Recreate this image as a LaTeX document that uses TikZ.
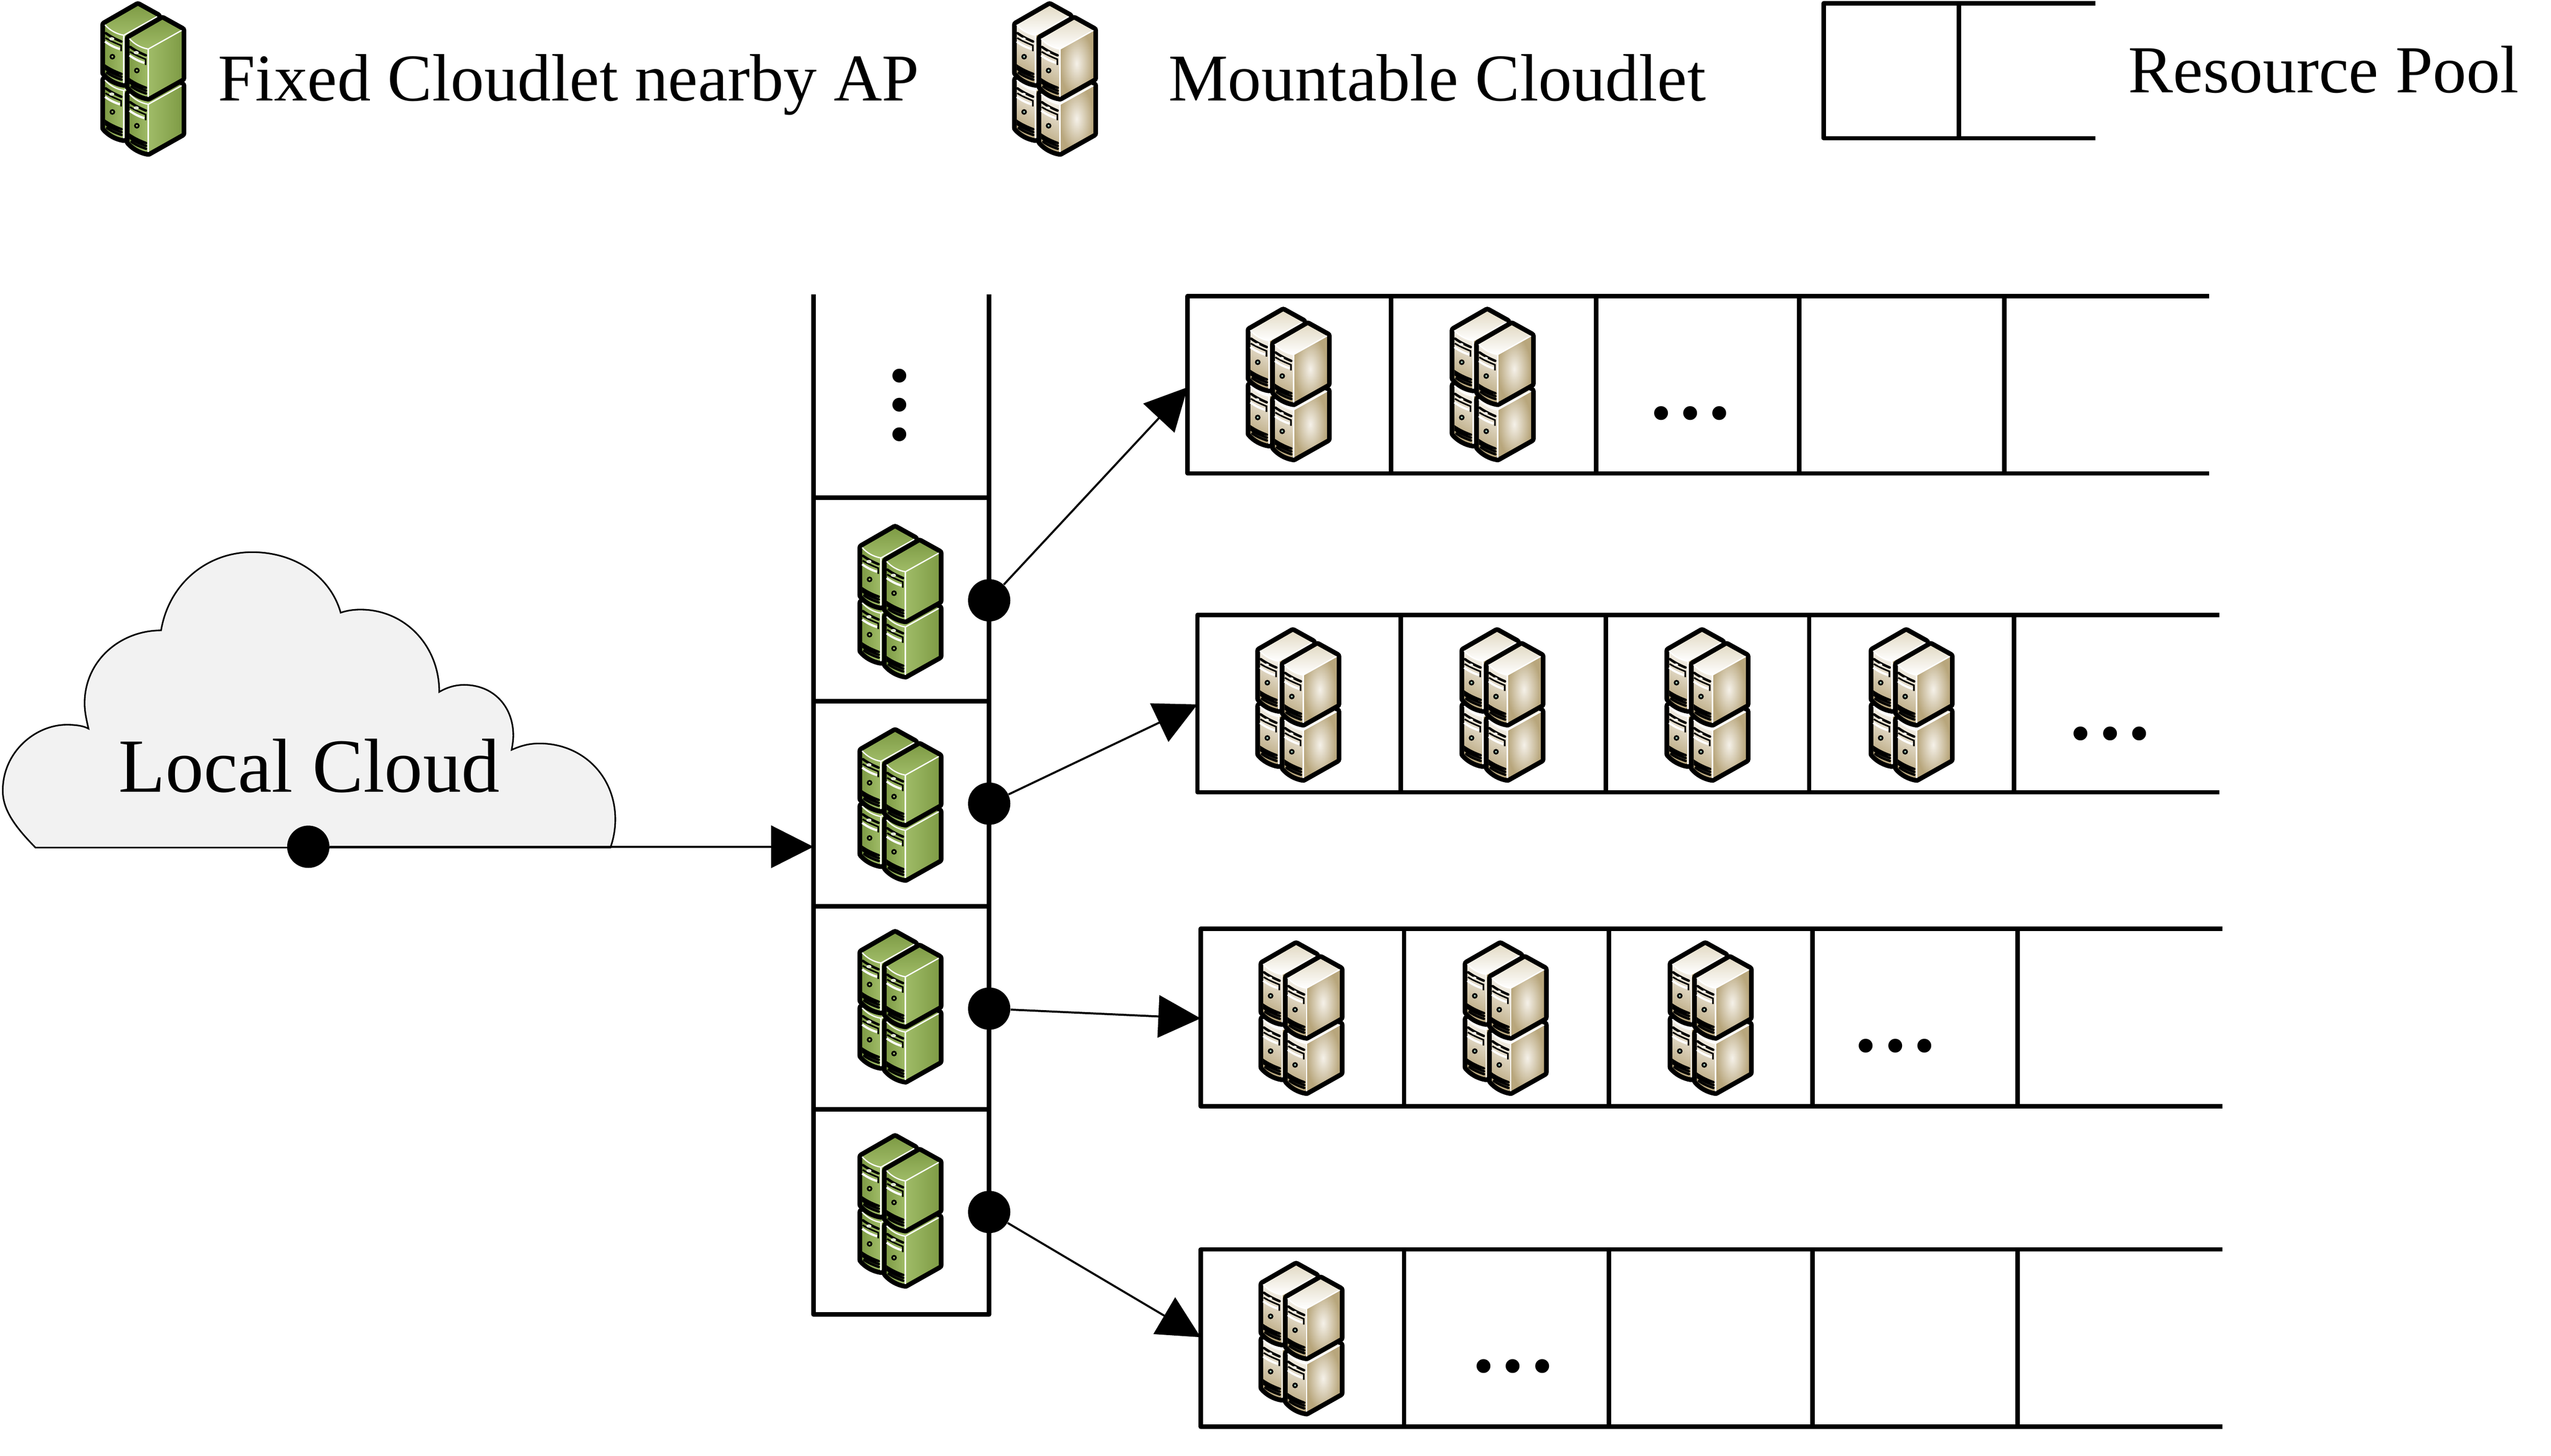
\documentclass[tikz,border=0pt]{standalone}
\usepackage{fontspec}
\setmainfont{Liberation Serif}
\usepackage{tikz}
\usetikzlibrary{arrows.meta}

\definecolor{greenlight}{HTML}{A0BC68}
\definecolor{greendark}{HTML}{7F9C46}
\definecolor{beigepale}{HTML}{F5F1E9}
\definecolor{beigeback}{HTML}{E3DBC6}
\definecolor{beigedark}{HTML}{B8A67C}
\definecolor{beigeknob}{HTML}{A8CDBD}
\definecolor{cloudgray}{HTML}{F2F2F2}

\tikzset{
  greentop/.style={top color=greendark,bottom color=greenlight},
  greenfront/.style={left color=greendark,right color=greenlight},
  greenside/.style={left color=greenlight,right color=greendark},
  greenknob/.style={fill=greenlight},
  greenled/.style={fill=greenlight!40,draw=white,line width=.01cm},
  beigetop/.style={top color=beigeback,bottom color=white},
  beigefront/.style={top color=beigepale,bottom color=beigedark,shading angle=-30},
  beigeside/.style={inner color=beigepale,outer color=beigedark},
  beigeknob/.style={fill=beigeknob},
  beigeled/.style={fill=beigepale},
  towerline/.style={draw=black,line width=.21cm,line join=round},
  towerglow/.style={draw=white,line width=.028cm},
  towerbar/.style={draw=black,line width=.055cm,line cap=round},
  towerstripe/.style={draw=white,line width=.05cm},
  towertick/.style={draw=black,line width=.035cm},
  boxline/.style={line width=.1cm,line join=round},
  arrowline/.style={line width=.045cm,-{Triangle[length=.94cm,width=.94cm]}},
  joint/.style={circle,fill=black,inner sep=0pt,minimum size=.94cm},
  legendtext/.style={anchor=base west,inner sep=0pt,font=\fontsize{42.3}{50}\selectfont},
  moredots/.style={inner sep=0pt,font=\fontsize{74}{80}\selectfont}
}

\newcommand{\towerpart}[3]{
\begin{scope}[shift={(#1,#2)}]
\draw[towerline] (-125,-69) -- (94,-195) -- (222,-124) -- (222,193) -- (0,318) .. controls (-50,310) and (-95,284) .. (-125,249) -- cycle;
\shade[#3top] (-125,-69) -- (94,-195) -- (222,-124) -- (0,0) .. controls (-50,-8) and (-95,-34) .. (-125,-69) -- cycle;
\shade[#3front] (-125,-69) .. controls (-95,-34) and (-50,-8) .. (0,0) -- (0,318) .. controls (-50,310) and (-95,284) .. (-125,249) -- cycle;
\shade[#3side] (0,0) -- (222,-124) -- (222,193) -- (0,318) -- cycle;
\draw[towerglow] (-125,-69) .. controls (-95,-34) and (-50,-8) .. (0,0) -- (222,-124);
\draw[towerglow] (0,0) -- (0,318);
\draw[towerbar] (-120,-14) .. controls (-90,8) and (-50,28) .. (-16,42);
\draw[towertick] (-122,18) .. controls (-90,38) and (-50,55) .. (-18,68) -- (-18,106);
\draw[towerstripe] (-125,42) .. controls (-95,65) and (-60,82) .. (-26,92);
\path[#3led] (-80,24) ellipse (15 and 9);
\draw[black,line width=.036cm,#3knob] (-76,143) circle (13);
\fill[black] (-125,193) .. controls (-100,212) and (-60,232) .. (-15,250) -- (-15,262) -- (-60,262) .. controls (-85,252) and (-105,240) .. (-125,232) -- cycle;
\foreach \dy in {0,19,38}
  \draw[towerbar] (-112,212+\dy) .. controls (-85,232+\dy) and (-50,246+\dy) .. (-15,258+\dy);
\end{scope}
}

\newcommand{\cloudlet}[3]{
\begin{scope}[shift={(#1,#2)},scale=0.0923]
\towerpart{157}{595}{#3}
\towerpart{157}{227}{#3}
\towerpart{320}{687}{#3}
\towerpart{320}{319}{#3}
\end{scope}
}

\begin{document}
\begin{tikzpicture}[x=0.03613cm,y=-0.03613cm]
\useasboundingbox (0,0) rectangle (1568,894.8);

\cloudlet{61.6}{0.7}{green}
\cloudlet{622}{0.7}{beige}
\node[legendtext] (fixedlabel) at (134,62) {Fixed Cloudlet nearby AP};
\node[legendtext] (mountlabel) at (718,62) {Mountable Cloudlet};
\node[legendtext,font=\fontsize{42.5}{50}\selectfont] (poollabel) at (1308,57) {Resource Pool};
\draw[boxline] (1288,2) -- (1121,2) -- (1121,85) -- (1288,85);
\draw[boxline] (1204,2) -- (1204,85);

\draw[line width=.035cm,fill=cloudgray] (21.8,521) .. controls (8,507) and (1.7,497) .. (1.7,486) .. controls (1.7,462) and (22,445.5) .. (41,445.5) .. controls (46,445.5) and (51,446) .. (54.4,447.9)
  .. controls (53,442) and (52,437) .. (52,432.4) .. controls (52,406) and (74,387.5) .. (99,387.5)
  .. controls (104,358) and (128,339.4) .. (155,339.4) .. controls (181,339.4) and (203,354) .. (209.4,376.6)
  .. controls (213,375.4) and (217,374.7) .. (221.5,374.7) .. controls (249,374.7) and (270,397) .. (270,425.3)
  .. controls (274,423) and (279,421) .. (285.3,421) .. controls (303,421) and (315.5,434) .. (315.5,452.1)
  .. controls (315.5,455) and (315,458) .. (314.5,460.9)
  .. controls (320,458.5) and (325,457) .. (331.6,457) .. controls (358,457) and (378.2,477) .. (378.2,503.7)
  .. controls (378.2,510) and (377,516) .. (375.2,521) -- cycle;
\node[inner sep=0pt,anchor=base,font=\fontsize{48.4}{50}\selectfont] (cloudlabel) at (190,487) {Local Cloud};

\draw[boxline] (500,181) -- (500,808) -- (608,808) -- (608,181);
\foreach \y in {306,431,557,682}
  \draw[boxline] (500,\y) -- (608,\y);
\cloudlet{527}{322}{green}
\cloudlet{527}{447}{green}
\cloudlet{527}{571}{green}
\cloudlet{527}{696.5}{green}
\node[moredots,rotate=90] (columndots) at (553,249) {...};

\draw[boxline] (1358,182) -- (730,182) -- (730,291) -- (1358,291);
\foreach \x in {855,981,1106,1232}
  \draw[boxline] (\x,182) -- (\x,291);
\draw[boxline] (1364,378) -- (736,378) -- (736,487) -- (1364,487);
\foreach \x in {861,987,1112,1238}
  \draw[boxline] (\x,378) -- (\x,487);
\draw[boxline] (1366,571) -- (738,571) -- (738,680) -- (1366,680);
\foreach \x in {863,989,1114,1240}
  \draw[boxline] (\x,571) -- (\x,680);
\draw[boxline] (1366,768) -- (738,768) -- (738,877) -- (1366,877);
\foreach \x in {863,989,1114,1240}
  \draw[boxline] (\x,768) -- (\x,877);

\foreach \x in {765.6,891}
  {\cloudlet{\x}{188.5}{beige}}
\foreach \x in {771.5,897,1023,1148.5}
  {\cloudlet{\x}{385.5}{beige}}
\foreach \x in {773.5,899,1025}
  {\cloudlet{\x}{578}{beige}}
\cloudlet{773.5}{775}{beige}

\node[moredots] (dotsA) at (1039,254) {...};
\node[moredots] (dotsB) at (1297,451) {...};
\node[moredots] (dotsC) at (1165,643) {...};
\node[moredots] (dotsD) at (930,840) {...};

\node[joint] (jointA) at (608,369) {};
\node[joint] (jointB) at (608,494) {};
\node[joint] (jointC) at (608,620) {};
\node[joint] (jointD) at (608,745) {};
\node[joint] (cloudjoint) at (189.5,520.5) {};
\coordinate (poolA) at (730,238);
\coordinate (poolB) at (736,433);
\coordinate (poolC) at (738,626);
\coordinate (poolD) at (738,822);
\coordinate (columnin) at (500,520.5);
\draw[arrowline] (jointA) -- (poolA);
\draw[arrowline] (jointB) -- (poolB);
\draw[arrowline] (jointC) -- (poolC);
\draw[arrowline] (jointD) -- (poolD);
\draw[arrowline] (cloudjoint) -- (columnin);
\end{tikzpicture}
\end{document}
